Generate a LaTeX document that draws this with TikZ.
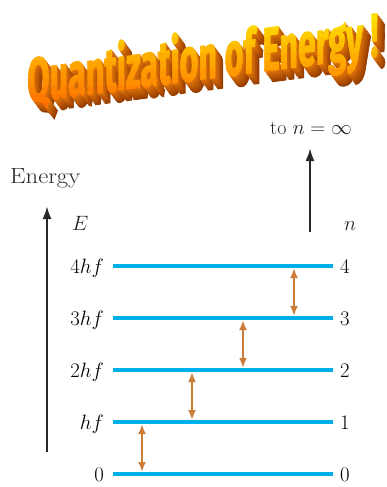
\documentclass[tikz,border=0pt]{standalone}
\usepackage{fontspec}
\usepackage{graphicx}
\usetikzlibrary{arrows.meta}
\newfontfamily\titlefont[BoldFeatures={FakeBold=2}]{Fira Sans}
\definecolor{lvl}{RGB}{0,176,235}
\definecolor{trans}{RGB}{205,125,55}
\definecolor{axis}{RGB}{40,40,40}
\definecolor{tYe}{RGB}{255,236,0}
\definecolor{tOr}{RGB}{255,100,0}
\definecolor{exN}{RGB}{215,110,10}
\definecolor{exF}{RGB}{150,60,0}
\newcommand\ttltext{\resizebox{351pt}{50pt}{\titlefont\bfseries Quantization of Energy !}}
\begin{document}
\begin{tikzpicture}[x=1pt,y=-1pt,
  level/.style={draw=lvl,line width=3.5pt},
  trarrow/.style={draw=trans,line width=2.2pt,{Latex[length=10pt,width=8pt]}-{Latex[length=10pt,width=8pt]}},
  axarrow/.style={draw=axis,line width=2.2pt,-{Latex[length=13pt,width=9pt]}},
  lbl/.style={font=\fontsize{22}{26}\selectfont, inner sep=0pt},
  slbl/.style={font=\fontsize{20}{24}\selectfont, inner sep=0pt, text=black!85},
  ttl/.style={inner sep=0pt, anchor=base west, transform shape}]
\useasboundingbox (0,0) rectangle (386,487);
% title extrusion
\foreach \i in {7,...,1}{
  \pgfmathsetmacro\p{(\i-1)*16}
  \begin{scope}[shift={(27+1.1*\i,102+1.5*\i)}, yslant=0.13]
    \node[ttl,text=exF!\p!exN] (tsh\i) at (0,0) {\ttltext};
  \end{scope}
}
% title face with vertical gradient
\foreach \i in {0,...,13}{
  \pgfmathsetmacro\ya{6+8*\i}
  \pgfmathsetmacro\yb{6+8*\i+8.4}
  \pgfmathsetmacro\p{\i*100/13}
  \begin{scope}
    \clip (0,\ya) rectangle (386,\yb);
    \begin{scope}[shift={(27,102)}, yslant=0.13]
      \node[ttl,text=tOr!\p!tYe] (tf\i) at (0,0) {\ttltext};
    \end{scope}
  \end{scope}
}
% levels
\foreach \k/\y/\t in {0/474/0,1/422/hf,2/370/2hf,3/318/3hf,4/266/4hf}{
  \coordinate (l\k w) at (113,\y);
  \coordinate (l\k e) at (333,\y);
  \draw[level] (l\k w) -- (l\k e);
  \node[lbl,anchor=base east] (el\k) at (104,\y+7.5) {$\t$};
  \node[lbl,anchor=base west] (nl\k) at (340,\y+7.5) {$\k$};
}
% transitions
\foreach \k/\kk/\x in {0/1/142,1/2/192,2/3/243,3/4/294}{
  \coordinate (tb\k) at (\x,{474-52*\k-2});
  \coordinate (tt\k) at (\x,{474-52*\kk+2});
  \draw[trarrow] (tb\k) -- (tt\k);
}
% axes
\coordinate (ebot) at (47,452);
\coordinate (etop) at (47,206);
\draw[axarrow] (ebot) -- (etop);
\coordinate (nbot) at (310,232);
\coordinate (ntop) at (310,148);
\draw[axarrow] (nbot) -- (ntop);
% texts
\node[lbl,anchor=base west,text=black!85] (energy) at (10,183) {\scalebox{1.12}[1]{Energy}};
\node[slbl,anchor=base west] (Elab) at (72,230) {$E$};
\node[slbl,anchor=base west] (nlab) at (344,230) {$n$};
\node[slbl,anchor=base west] (toinf) at (270,134) {to $n=\infty$};
\end{tikzpicture}
\end{document}
